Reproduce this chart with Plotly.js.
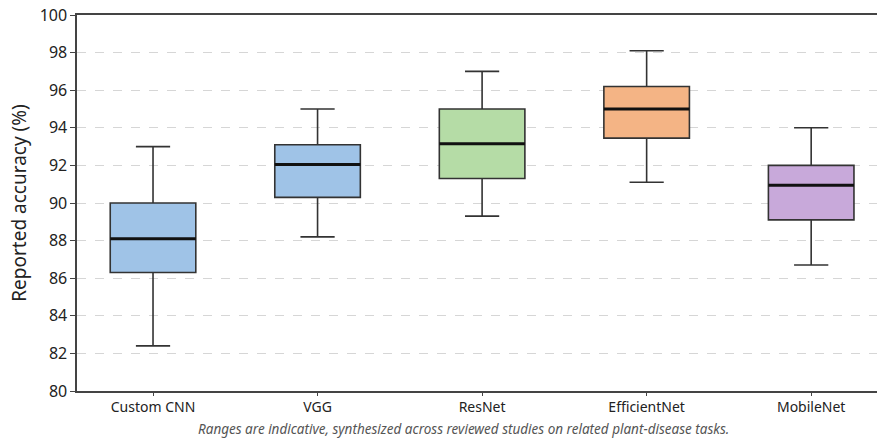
<!DOCTYPE html>
<html>
<head>
<meta charset="utf-8">
<script src="https://cdn.plot.ly/plotly-3.0.1.min.js"></script>
<style>html,body{margin:0;padding:0;background:#fff;}#chart{width:877px;height:441px;}</style>
</head>
<body>
<div id="chart"></div>
<script>
const categories = ["Custom CNN", "VGG", "ResNet", "EfficientNet", "MobileNet"];
const lowerWhisker = [82.4, 88.2, 89.3, 91.1, 86.7];
const q1Values = [86.3, 90.3, 91.3, 93.45, 89.1];
const medianValues = [88.1, 92.05, 93.15, 95.0, 90.95];
const q3Values = [90.0, 93.1, 95.0, 96.2, 92.0];
const upperWhisker = [93.0, 95.0, 97.0, 98.1, 94.0];
const fillColors = ["#9fc3e7", "#9fc3e7", "#b5dca6", "#f4b485", "#c8a9da"];
const yTicks = [80, 82, 84, 86, 88, 90, 92, 94, 96, 98, 100];
const caption = "Ranges are indicative, synthesized across reviewed studies on related plant-disease tasks.";

const boxWidth = 0.52;
const traces = [];
categories.forEach((c, i) => {
  traces.push({
    type: "box",
    x: [i],
    q1: [q1Values[i]],
    median: [medianValues[i]],
    q3: [q3Values[i]],
    lowerfence: [lowerWhisker[i]],
    upperfence: [upperWhisker[i]],
    width: boxWidth,
    whiskerwidth: 0.4,
    fillcolor: fillColors[i],
    line: {color: "#333333", width: 1.6},
    hoverinfo: "skip",
    showlegend: false
  });
});
categories.forEach((c, i) => {
  traces.push({
    type: "scatter",
    mode: "lines",
    x: [i - boxWidth / 2, i + boxWidth / 2],
    y: [medianValues[i], medianValues[i]],
    line: {color: "#111111", width: 3},
    hoverinfo: "skip",
    showlegend: false
  });
});

const layout = {
  width: 877,
  height: 441,
  margin: {l: 77, r: 0, t: 15, b: 50},
  paper_bgcolor: "#ffffff",
  plot_bgcolor: "#ffffff",
  font: {family: "Noto Sans, Open Sans, sans-serif", color: "#222"},
  boxmode: "overlay",
  xaxis: {
    range: [-0.462, 4.40],
    tickvals: categories.map((c, i) => i),
    ticktext: categories,
    showgrid: false,
    zeroline: false,
    showline: true,
    mirror: true,
    linecolor: "#444444",
    linewidth: 1.6,
    ticks: "outside",
    ticklen: 3,
    tickcolor: "#444444",
    tickfont: {size: 14, color: "#222"}
  },
  yaxis: {
    range: [80, 100],
    tickvals: yTicks,
    showgrid: true,
    gridcolor: "#d6d6d6",
    griddash: "dash",
    gridwidth: 1,
    zeroline: false,
    showline: true,
    linecolor: "#444444",
    linewidth: 1.6,
    ticks: "outside",
    ticklen: 5,
    tickcolor: "#444444",
    tickfont: {size: 16, color: "#222"},
    title: {text: "Reported accuracy (%)", font: {size: 19, color: "#222"}, standoff: 8}
  },
  annotations: [{
    text: caption,
    xref: "paper", yref: "paper",
    x: 0.4825, y: -0.1,
    xanchor: "center", yanchor: "middle",
    showarrow: false,
    font: {size: 13.5, color: "#555555", family: "Noto Sans, Open Sans, sans-serif", style: "italic"}
  }]
};

Plotly.newPlot("chart", traces, layout, {displayModeBar: false, staticPlot: true});
</script>
</body>
</html>
